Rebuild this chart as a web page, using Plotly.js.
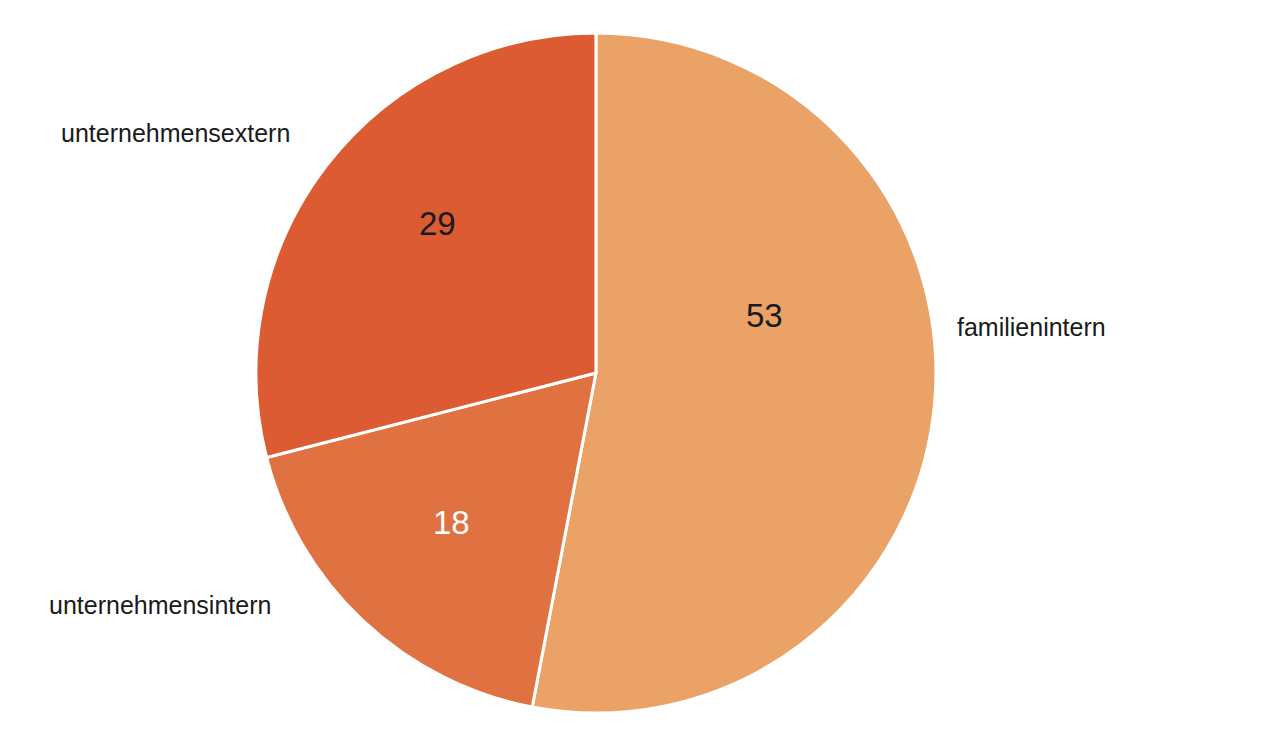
<!DOCTYPE html>
<html>
<head>
<meta charset="utf-8">
<script src="https://cdn.plot.ly/plotly-3.0.1.min.js"></script>
<style>html,body{margin:0;padding:0;background:#fff;}#chart{width:1272px;height:748px;}</style>
</head>
<body>
<div id="chart"></div>
<script>
var categories = ["familienintern", "unternehmensintern", "unternehmensextern"];
var values = [53, 18, 29];
var colors = ["#EBA267", "#E07242", "#DC5B33"];
var textColors = ["#1a1a1a", "#ffffff", "#1a1a1a"];

var trace = {
  type: "pie",
  labels: categories,
  values: values,
  sort: false,
  direction: "clockwise",
  rotation: 0,
  textinfo: "none",
  marker: {colors: colors, line: {color: "#ffffff", width: 3}},
  hoverinfo: "label+value",
  domain: {x: [0, 0.937], y: [0, 1]},
  showlegend: false
};

var FONT = "Liberation Sans, Arial, sans-serif";
var labelPos = [ {x: 955, y: 327}, {x: 47, y: 605}, {x: 59, y: 133} ];
var valuePos = [ {x: 765, y: 315}, {x: 452, y: 522}, {x: 437, y: 223} ];

function px(x) { return x / 1272; }
function py(y) { return (713 - y) / 680; }

var annotations = [];
categories.forEach(function(c, i) {
  annotations.push({
    text: c, xref: "paper", yref: "paper",
    x: px(labelPos[i].x), y: py(labelPos[i].y),
    xanchor: "left", yanchor: "middle", showarrow: false,
    font: {family: FONT, size: 25, color: "#1a1a1a"}
  });
  annotations.push({
    text: String(values[i]), xref: "paper", yref: "paper",
    x: px(valuePos[i].x), y: py(valuePos[i].y),
    xanchor: "center", yanchor: "middle", showarrow: false,
    font: {family: FONT, size: 33, color: textColors[i]}
  });
});

var layout = {
  width: 1272, height: 748,
  margin: {l: 0, r: 0, t: 33, b: 35},
  paper_bgcolor: "#ffffff",
  plot_bgcolor: "#ffffff",
  annotations: annotations
};

Plotly.newPlot("chart", [trace], layout, {displayModeBar: false, staticPlot: true});
</script>
</body>
</html>
